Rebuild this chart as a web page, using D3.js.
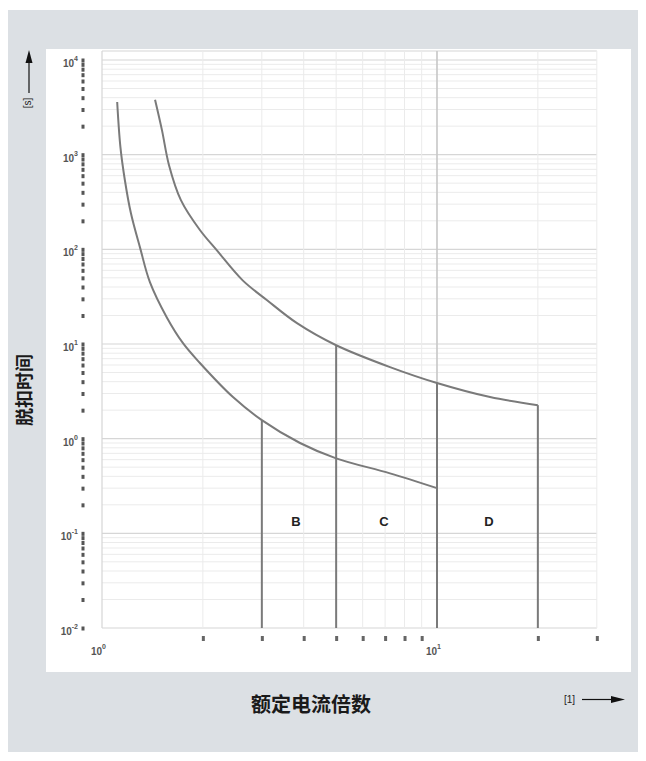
<!DOCTYPE html>
<html>
<head>
<meta charset="utf-8">
<style>
  body { margin: 0; background: #fff; }
  svg { display: block; }
  .grid-minor { stroke: #ebebeb; stroke-width: 1; }
  .grid-major { stroke: #d6d6d6; stroke-width: 1.2; }
  .curve { fill: none; stroke: #7a7a7a; stroke-width: 2; }
  .tick-lab { font-family: "Liberation Sans", Arial, sans-serif; font-weight: bold; fill: #555; }
  .zone { font-family: "Liberation Sans", Arial, sans-serif; font-weight: bold; font-size: 13px; fill: #222; text-anchor: middle; }
  .title { font-family: "Noto Sans CJK SC", sans-serif; font-weight: bold; fill: #1a1a1a; }
  .unit { font-family: "Liberation Sans", Arial, sans-serif; font-size: 10px; fill: #222; }
</style>
</head>
<body>
<svg id="chart"></svg>
<script src="https://cdn.jsdelivr.net/npm/d3@7"></script>
<script>
// lower curve: multiple of rated current, trip time [s]
var lowerX = [1.11, 1.135, 1.17, 1.22, 1.30, 1.39, 1.56, 1.745, 1.96, 2.46, 3.0, 3.9, 5.0, 7.24, 10];
var lowerT = [3600, 1200, 540, 240, 103, 45, 19.2, 10.2, 6.3, 2.75, 1.57, 0.90, 0.62, 0.43, 0.30];
// upper curve
var upperX = [1.44, 1.51, 1.585, 1.72, 1.96, 2.20, 2.63, 3.11, 3.82, 5.0, 7.24, 10, 14.4, 20];
var upperT = [3800, 1815, 774, 331, 160, 98, 47, 29, 16.6, 9.7, 5.7, 3.87, 2.75, 2.26];
// vertical limit lines (multiple, top time)
var limitX = [3, 5, 10, 20];
var limitT = [1.57, 9.7, 3.87, 2.26];
// zone labels
var zoneNames = ['B', 'C', 'D'];
var zoneX = [3.79, 6.95, 14.3];
var zoneT = 0.135;
// axis ticks
var yMajor = [-2, -1, 0, 1, 2, 3, 4];
var xMajor = [0, 1];
var xMinor = [2, 3, 4, 5, 6, 7, 8, 9, 20, 30];

var width = 646, height = 761;
var svg = d3.select('#chart').attr('width', width).attr('height', height);

var x = d3.scaleLog().domain([1, 30]).range([102, 102 + 335 * Math.log10(30)]);
var y = d3.scaleLog().domain([0.01, 10000]).range([628, 60]);

// backgrounds
svg.append('rect').attr('x', 8).attr('y', 10).attr('width', 630).attr('height', 742).attr('fill', '#dce0e4');
svg.append('rect').attr('x', 46).attr('y', 49).attr('width', 585).attr('height', 623).attr('fill', '#fff');

// minor values per decade
var yVals = [];
for (var e = -2; e < 4; e++) for (var k = 1; k < 10; k++) yVals.push(k * Math.pow(10, e));
yVals.push(10000);
var xVals = [1, 2, 3, 4, 5, 6, 7, 8, 9, 10, 20, 30];

var grid = svg.append('g');
grid.selectAll('line.h')
  .data(yVals)
  .enter()
  .append('line')
  .attr('class', d => Math.abs(Math.log10(d) % 1) < 1e-9 ? 'grid-major' : 'grid-minor')
  .attr('x1', x(1)).attr('x2', x(30))
  .attr('y1', d => y(d)).attr('y2', d => y(d));
grid.append('line').attr('class', 'grid-major')
  .attr('x1', x(1)).attr('x2', x(30)).attr('y1', 51).attr('y2', 51);
grid.selectAll('line.v')
  .data(xVals)
  .enter()
  .append('line')
  .attr('class', d => (d === 1 || d === 10) ? 'grid-major' : 'grid-minor')
  .attr('x1', d => x(d)).attr('x2', d => x(d))
  .attr('y1', 51).attr('y2', y(0.01));
svg.append('line').attr('x1', x(10)).attr('x2', x(10)).attr('y1', 51).attr('y2', y(0.01))
  .attr('stroke', '#c4c4c4').attr('stroke-width', 1.2);

// y axis: dark tick column
var yAxis = d3.axisLeft(y).tickValues(yVals).tickSize(0).tickFormat(() => '');
var yAx = svg.append('g').attr('transform', 'translate(83,0)').call(yAxis);
yAx.select('.domain').remove();
yAx.selectAll('.tick').append('rect')
  .attr('x', -1.5).attr('y', -2).attr('width', 3).attr('height', 4).attr('fill', '#555');

yMajor.forEach(function (p) {
  var t = svg.append('text').attr('class', 'tick-lab')
    .attr('x', 78).attr('y', y(Math.pow(10, p)) + 7).attr('text-anchor', 'end').style('font-size', '10px');
  t.append('tspan').text('10');
  t.append('tspan').attr('dy', -6).style('font-size', '7px').text(p);
});

// x axis: tick marks below the grid
var xAxis = d3.axisBottom(x).tickValues(xMinor).tickSize(0).tickFormat(() => '');
var xAx = svg.append('g').attr('transform', 'translate(0,639)').call(xAxis);
xAx.select('.domain').remove();
xAx.selectAll('.tick').append('rect')
  .attr('x', -1.5).attr('y', -3).attr('width', 3).attr('height', 5).attr('fill', '#666');

xMajor.forEach(function (p) {
  var t = svg.append('text').attr('class', 'tick-lab')
    .attr('x', x(Math.pow(10, p)) + 4).attr('y', 655).attr('text-anchor', 'end').style('font-size', '10px');
  t.append('tspan').text('10');
  t.append('tspan').attr('dy', -6).style('font-size', '7px').text(p);
});

// curves
var line = d3.line().x(d => x(d[0])).y(d => y(d[1])).curve(d3.curveCatmullRom.alpha(0.5));
svg.append('path').attr('class', 'curve').attr('d', line(d3.zip(lowerX, lowerT)));
svg.append('path').attr('class', 'curve').attr('d', line(d3.zip(upperX, upperT)));

svg.selectAll('line.limit')
  .data(d3.zip(limitX, limitT))
  .enter()
  .append('line')
  .attr('class', 'curve')
  .attr('x1', d => x(d[0])).attr('x2', d => x(d[0]))
  .attr('y1', d => y(d[1])).attr('y2', y(0.01));

svg.selectAll('text.zone')
  .data(zoneNames)
  .enter()
  .append('text')
  .attr('class', 'zone')
  .attr('x', (d, i) => x(zoneX[i]))
  .attr('y', y(zoneT) + 5)
  .text(d => d);

// titles
svg.append('text').attr('class', 'title')
  .attr('transform', 'translate(31,390) rotate(-90)')
  .attr('text-anchor', 'middle').style('font-size', '18px')
  .text('脱扣时间');
svg.append('text').attr('class', 'title')
  .attr('x', 311).attr('y', 712)
  .attr('text-anchor', 'middle').style('font-size', '20px')
  .text('额定电流倍数');

// unit markers with arrows
svg.append('text').attr('class', 'unit')
  .attr('transform', 'translate(31,103) rotate(-90)')
  .attr('text-anchor', 'middle').text('[s]');
svg.append('line').attr('x1', 29).attr('x2', 29).attr('y1', 93).attr('y2', 60)
  .attr('stroke', '#111').attr('stroke-width', 1.2);
svg.append('path').attr('d', 'M29,50 L25.5,63 L32.5,63 Z').attr('fill', '#111');

svg.append('text').attr('class', 'unit')
  .attr('x', 564).attr('y', 703).text('[1]');
svg.append('line').attr('x1', 582).attr('x2', 612).attr('y1', 699.5).attr('y2', 699.5)
  .attr('stroke', '#111').attr('stroke-width', 1.2);
svg.append('path').attr('d', 'M625,699.5 L611,696 L611,703 Z').attr('fill', '#111');
</script>
</body>
</html>
